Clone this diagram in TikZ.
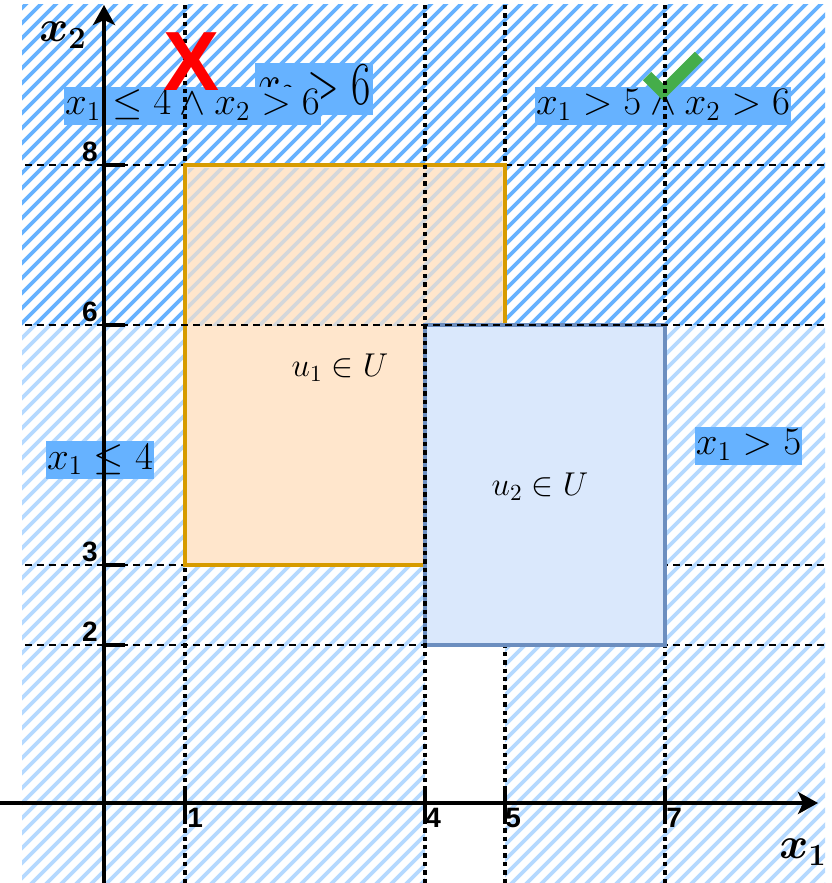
\RequirePackage{fix-cm}
\documentclass[tikz,border=0pt]{standalone}
\usepackage{graphicx}
\usepackage{amsmath}
\usepackage{fontspec}
\usetikzlibrary{arrows.meta}
\newfontfamily\ticksans{Liberation Sans}
\definecolor{hatchdark}{HTML}{66B2FF}
\definecolor{hatchlight}{HTML}{B5D9FF}
\definecolor{lblfill}{HTML}{66B2FF}
\definecolor{orfill}{HTML}{FFE6CC}
\definecolor{ordraw}{HTML}{D79B00}
\definecolor{blfill}{HTML}{DAE8FC}
\definecolor{bldraw}{HTML}{6C8EBF}
\definecolor{checkgreen}{HTML}{45AD4A}
\definecolor{xred}{HTML}{FF0000}
\newcommand\stripesin[2]{%
  \begin{scope}
    \clip #2;
    \foreach \k in {0,15,...,1740} \draw[stripe,#1] (\k,0) -- (\k-900,900);
  \end{scope}}
\begin{document}
\begin{tikzpicture}[x=0.5pt,y=-0.5pt,
  stripe/.style={line width=1.8pt},
  cond/.style={fill=lblfill, inner xsep=0.5pt, inner ysep=0.5pt, text height=13.5pt, text depth=4.5pt, font=\fontsize{19.5}{22}\selectfont},
  ulabel/.style={font=\fontsize{16.5}{19}\selectfont},
  ticklbl/.style={inner sep=0pt, font=\ticksans\bfseries\fontsize{14}{14}\selectfont},
  axlbl/.style={inner sep=0pt, font=\fontsize{22}{24}\selectfont\boldmath},
  vdash/.style={line width=1.8pt, dash pattern=on 2.2pt off 2pt},
  hdash/.style={line width=1.4pt, dash pattern=on 3.5pt off 2.5pt},
  axisline/.style={line width=1.8pt, -{Stealth[length=10pt,width=11pt,inset=2.5pt]}},
  tickmark/.style={line width=1.6pt},
  regionbox/.style={line width=2.4pt, inner sep=0pt}
]
\useasboundingbox (0,0) rectangle (831,883);
\fill[white] (0,0) rectangle (831,883);

% hatched regions
\stripesin{hatchdark}{(22,5) rectangle (825,325)}
\stripesin{hatchlight}{(22,325) rectangle (425,883)}
\stripesin{hatchlight}{(505,325) rectangle (825,883)}

% condition labels
\node[fill=lblfill, minimum width=59pt, minimum height=26pt, inner sep=0pt] (backlbl) at (314,89)
  {\fontsize{21}{21}\selectfont\scalebox{1}[1.45]{$x_2>6$}};
\node[cond] (c1) at (192.5,106) {$x_1 \leq 4 \land x_2 > 6$};
\node[cond] (c2) at (663,106) {$x_1 > 5 \land x_2 > 6$};
\node[cond] (c3) at (100,460) {$x_1 \leq 4$};
\node[cond] (c4) at (748.5,445.5) {$x_1 > 5$};

% check mark
\draw[checkgreen, line width=6pt, line cap=butt, line join=miter] (647,76) -- (663,92) -- (699,56);

% grid coordinates
\foreach \xv/\nm in {185/one,425/four,505/five,665/seven} {
  \coordinate (v\nm top) at (\xv,5);
  \coordinate (v\nm bot) at (\xv,883);
}
\foreach \yv/\nm in {165/eight,325/six,565/three,645/two} {
  \coordinate (h\nm l) at (25,\yv);
  \coordinate (h\nm r) at (825,\yv);
}

% dashed lines under the boxes
\draw[vdash] (vonetop) -- (vonebot);
\draw[vdash] (vfivetop) -- (vfivebot);
\draw[vdash] (vseventop) -- (vsevenbot);
\draw[hdash] (heightl) -- (heightr);
\draw[hdash] (hthreel) -- (hthreer);
\draw[hdash] (htwol) -- (htwor);

% boxes
\node[regionbox, draw=ordraw, fill=orfill, minimum width=160pt, minimum height=200pt] (u1) at (345,365) {};
\node[ulabel] (u1lbl) at (340,368) {$u_1 \in U$};
\stripesin{hatchdark,opacity=0.28}{(188,168) rectangle (502,325)}
\node[regionbox, draw=bldraw, fill=blfill, minimum width=120pt, minimum height=160pt] (u2) at (545,485) {};
\node[ulabel] (u2lbl) at (540,487) {$u_2 \in U$};

% dashed lines over the boxes
\draw[vdash] (vfourtop) -- (vfourbot);
\draw[hdash] (hsixl) -- (hsixr);

% axes
\coordinate (ybot) at (104,883);
\coordinate (ytop) at (104,5);
\coordinate (xleft) at (0,803);
\coordinate (xright) at (818,803);
\draw[axisline] (ybot) -- (ytop);
\draw[axisline] (xleft) -- (xright);

% ticks
\foreach \xv in {185,425,505,665} \draw[tickmark] (\xv,786) -- (\xv,821);
\foreach \yv in {165,325,565,645} \draw[tickmark] (104,\yv) -- (125,\yv);

% red cross
\node[inner sep=0pt, text=xred, font=\ticksans\bfseries\fontsize{42}{42}\selectfont] (cross) at (192,62) {X};

% tick labels
\node[ticklbl, anchor=west] (t1) at (187,818) {1};
\node[ticklbl, anchor=west] (t4) at (425,818) {4};
\node[ticklbl, anchor=west] (t5) at (505,818) {5};
\node[ticklbl, anchor=west] (t7) at (666,818) {7};
\node[ticklbl] (t8) at (90,152) {8};
\node[ticklbl] (t6) at (90,312) {6};
\node[ticklbl] (t3) at (90,552) {3};
\node[ticklbl] (t2) at (90,632) {2};

% axis labels
\node[axlbl] (x2lbl) at (63,35) {$x_2$};
\node[axlbl] (x1lbl) at (803,852) {$x_1$};
\end{tikzpicture}
\end{document}
